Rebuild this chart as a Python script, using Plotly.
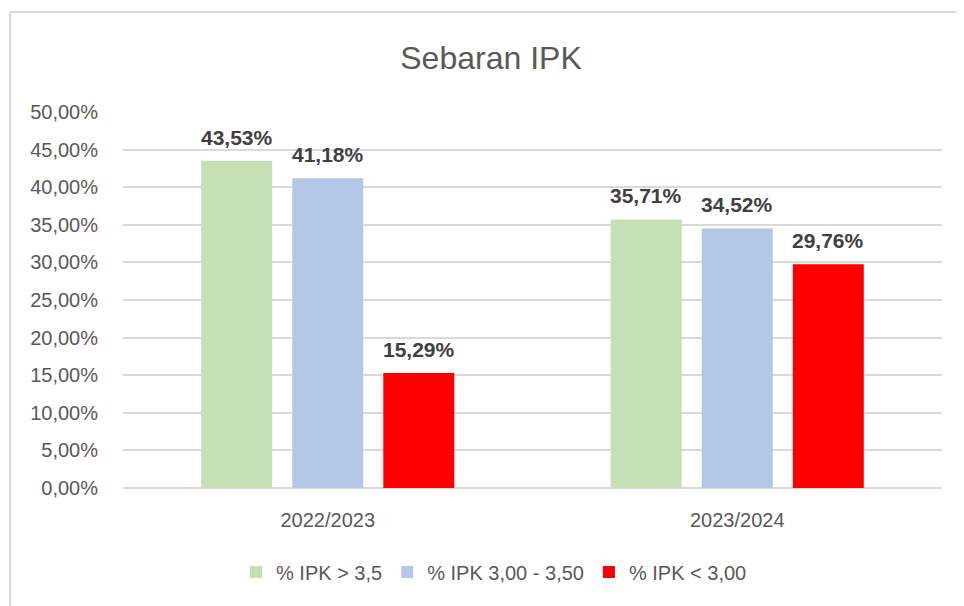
import plotly.graph_objects as go

categories = ["2022/2023", "2023/2024"]
series_names = ["% IPK > 3,5", "% IPK 3,00 - 3,50", "% IPK < 3,00"]
ipk_high = [0.4353, 0.3571]
ipk_mid = [0.4118, 0.3452]
ipk_low = [0.1529, 0.2976]
colors = ["#C5E0B4", "#B4C7E7", "#FF0000"]
y_ticks = [0, 0.05, 0.10, 0.15, 0.20, 0.25, 0.30, 0.35, 0.40, 0.45, 0.50]

FONT = "Liberation Sans, Arial, sans-serif"

# page body has an 8px margin; shift the figure so it lines up with the reference
OFF = 8
W, H = 964 - OFF, 606 - OFF
L, R, T, B = 123 - OFF, 22, 112 - OFF, 118
pw, ph = W - L - R, H - T - B

def px_x(px):
    return (px - OFF - L) / pw

def px_y(py):
    return (H - B - (py - OFF)) / ph

BARGAP = 0.333
GROUPGAP = 0.22
series = [ipk_high, ipk_mid, ipk_low]

fig = go.Figure()
for name, vals, col in zip(series_names, series, colors):
    fig.add_trace(go.Bar(
        x=categories, y=vals, name=name,
        marker=dict(color=col, line=dict(width=0)),
        cliponaxis=False,
    ))

# data labels above each bar
slot = (1 - BARGAP) / len(series)
annotations = []
for k, vals in enumerate(series):
    for i, v in enumerate(vals):
        annotations.append(dict(
            x=i + (k - (len(series) - 1) / 2) * slot, y=v, xref="x", yref="y",
            text=f"{v * 100:.2f}%".replace(".", ","),
            showarrow=False, yanchor="bottom", yshift=10,
            font=dict(family=FONT, size=21, color="#404040", weight="bold"),
        ))

fig.update_layout(
    width=W, height=H,
    margin=dict(l=L, r=R, t=T, b=B),
    paper_bgcolor="white", plot_bgcolor="white",
    separators=", ",
    barmode="group", bargap=BARGAP, bargroupgap=GROUPGAP,
    font=dict(family=FONT, color="#595959"),
    title=dict(text="Sebaran IPK", x=(491 - OFF) / W, xanchor="center",
               y=1 - (58 - OFF) / H, yanchor="middle",
               font=dict(family=FONT, size=32, color="#595959")),
    legend=dict(orientation="h", x=px_x(494), xanchor="center",
                y=px_y(572), yanchor="middle",
                font=dict(family=FONT, size=20, color="#595959"),
                itemwidth=30, traceorder="normal"),
    showlegend=True,
    annotations=annotations,
    yaxis=dict(range=[0, 0.5], tickvals=y_ticks, tickformat=".2%",
               showgrid=True, gridcolor="#D9D9D9", gridwidth=1.5,
               zeroline=True, zerolinecolor="#D9D9D9", zerolinewidth=1.5,
               showline=False, ticks="", ticklabelstandoff=24,
               tickfont=dict(family=FONT, size=20, color="#595959")),
    xaxis=dict(showgrid=False, showline=False, ticks="",
               ticklabelstandoff=18,
               tickfont=dict(family=FONT, size=20, color="#595959")),
    shapes=[
        dict(type="line", xref="paper", yref="paper",
             x0=px_x(10), x1=px_x(10), y0=px_y(12), y1=px_y(620),
             line=dict(color="#D9D9D9", width=2)),
        dict(type="line", xref="paper", yref="paper",
             x0=px_x(10), x1=px_x(980), y0=px_y(12), y1=px_y(12),
             line=dict(color="#D9D9D9", width=2)),
    ],
)

fig.write_html("out.html")
